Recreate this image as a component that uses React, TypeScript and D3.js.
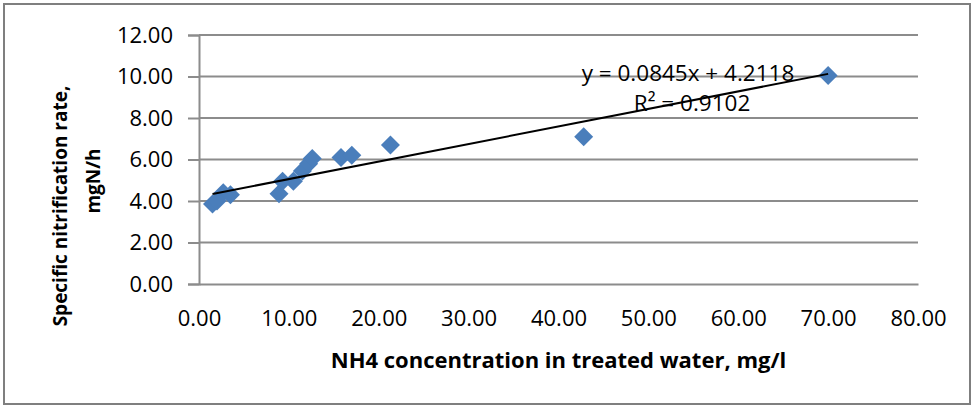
import React, { useRef, useEffect } from 'react';
import * as d3 from 'd3';

// NH4 concentration (mg/l) vs specific nitrification rate (mgN/h)
const nh4 = [1.5, 2.0, 2.7, 3.5, 8.9, 9.3, 10.5, 11.5, 12.2, 12.6, 15.8, 17.0, 21.3, 42.8, 70.0];
const rate = [3.85, 4.0, 4.4, 4.3, 4.35, 4.95, 4.95, 5.45, 5.8, 6.05, 6.1, 6.2, 6.7, 7.1, 10.05];

const xTicks = [0, 10, 20, 30, 40, 50, 60, 70, 80];
const yTicks = [0, 2, 4, 6, 8, 10, 12];

const slope = 0.0845;
const intercept = 4.2118;
const rSquared = 0.9102;

const xTitle = 'NH4 concentration in treated water, mg/l';
const yTitleLines = ['Specific nitrification rate,', 'mgN/h'];

const FONT = '"Open Sans", "Liberation Sans", sans-serif';

const ScatterChart: React.FC = () => {
  const ref = useRef<SVGGElement | null>(null);

  useEffect(() => {
    if (!ref.current) return;
    const svg = d3.select(ref.current);
    svg.selectAll('*').remove();

    const width = 974;
    const height = 407;
    const margin = { top: 35, right: 56, bottom: 123, left: 199 };

    const x = d3.scaleLinear().domain([0, 80]).range([margin.left, width - margin.right]);
    const y = d3.scaleLinear().domain([0, 12]).range([height - margin.bottom, margin.top]);

    // gridlines
    svg
      .append('g')
      .selectAll('line')
      .data(yTicks.filter((t) => t > 0))
      .join('line')
      .attr('x1', x(0))
      .attr('x2', x(80))
      .attr('y1', (d) => y(d))
      .attr('y2', (d) => y(d))
      .attr('stroke', '#8c8c8c')
      .attr('stroke-width', 2);

    // y axis
    const yAxis = svg
      .append('g')
      .attr('transform', `translate(${x(0)},0)`)
      .call(
        d3
          .axisLeft(y)
          .tickValues(yTicks)
          .tickFormat((d) => d3.format('.2f')(d as number))
          .tickSize(11)
          .tickPadding(15)
      );
    yAxis.select('.domain').attr('stroke', '#8c8c8c').attr('stroke-width', 2);
    yAxis.selectAll('.tick line').attr('stroke', '#8c8c8c').attr('stroke-width', 2);
    yAxis
      .selectAll('.tick text')
      .attr('fill', '#000')
      .style('font-family', FONT)
      .style('font-size', '22px');

    // x axis
    const xAxis = svg
      .append('g')
      .attr('transform', `translate(0,${y(0)})`)
      .call(
        d3
          .axisBottom(x)
          .tickValues(xTicks)
          .tickFormat((d) => d3.format('.2f')(d as number))
          .tickSize(0)
          .tickPadding(26)
      );
    xAxis.select('.domain').attr('stroke', '#8c8c8c').attr('stroke-width', 2);
    xAxis
      .selectAll('.tick text')
      .attr('fill', '#000')
      .style('font-family', FONT)
      .style('font-size', '22px');

    // points
    const pts = nh4.map((v, i) => ({ x: v, y: rate[i] }));
    svg
      .append('g')
      .selectAll('path')
      .data(pts)
      .join('path')
      .attr('transform', (d) => `translate(${x(d.x)},${y(d.y)})`)
      .attr('d', d3.symbol(d3.symbolDiamond2, 230)())
      .attr('fill', '#4a7ebb');

    // linear trendline
    const x0 = d3.min(nh4)!;
    const x1 = d3.max(nh4)!;
    svg
      .append('line')
      .attr('x1', x(x0))
      .attr('y1', y(slope * x0 + intercept))
      .attr('x2', x(x1))
      .attr('y2', y(slope * x1 + intercept))
      .attr('stroke', '#000')
      .attr('stroke-width', 2);

    // equation label
    const eq = svg
      .append('text')
      .attr('text-anchor', 'middle')
      .style('font-family', FONT)
      .style('font-size', '22.5px')
      .attr('fill', '#000');
    eq.append('tspan')
      .attr('x', 688)
      .attr('y', 81)
      .text(`y = ${slope}x + ${intercept}`);
    eq.append('tspan')
      .attr('x', 692)
      .attr('y', 111)
      .text(`R² = ${rSquared}`);

    // axis titles
    svg
      .append('text')
      .attr('x', (x(0) + x(80)) / 2)
      .attr('y', 368)
      .attr('text-anchor', 'middle')
      .style('font-family', FONT)
      .style('font-size', '22px')
      .style('font-weight', 'bold')
      .text(xTitle);

    const yt = svg
      .append('text')
      .attr('transform', 'rotate(-90)')
      .attr('text-anchor', 'middle')
      .style('font-family', FONT)
      .style('font-size', '19px')
      .style('font-weight', 'bold');
    yt.append('tspan').attr('x', -206).attr('y', 67).text(yTitleLines[0]);
    yt.append('tspan').attr('x', -181).attr('y', 100).text(yTitleLines[1]);
  }, []);

  return (
    <svg width={974} height={407} style={{ display: 'block' }}>
      <rect x={4} y={4} width={966} height={400} fill="#fff" stroke="#7f7f7f" strokeWidth={2} />
      <g ref={ref} />
    </svg>
  );
};

export default function App() {
  return (
    <div style={{ position: 'absolute', left: 0, top: 0 }}>
      <ScatterChart />
    </div>
  );
}
